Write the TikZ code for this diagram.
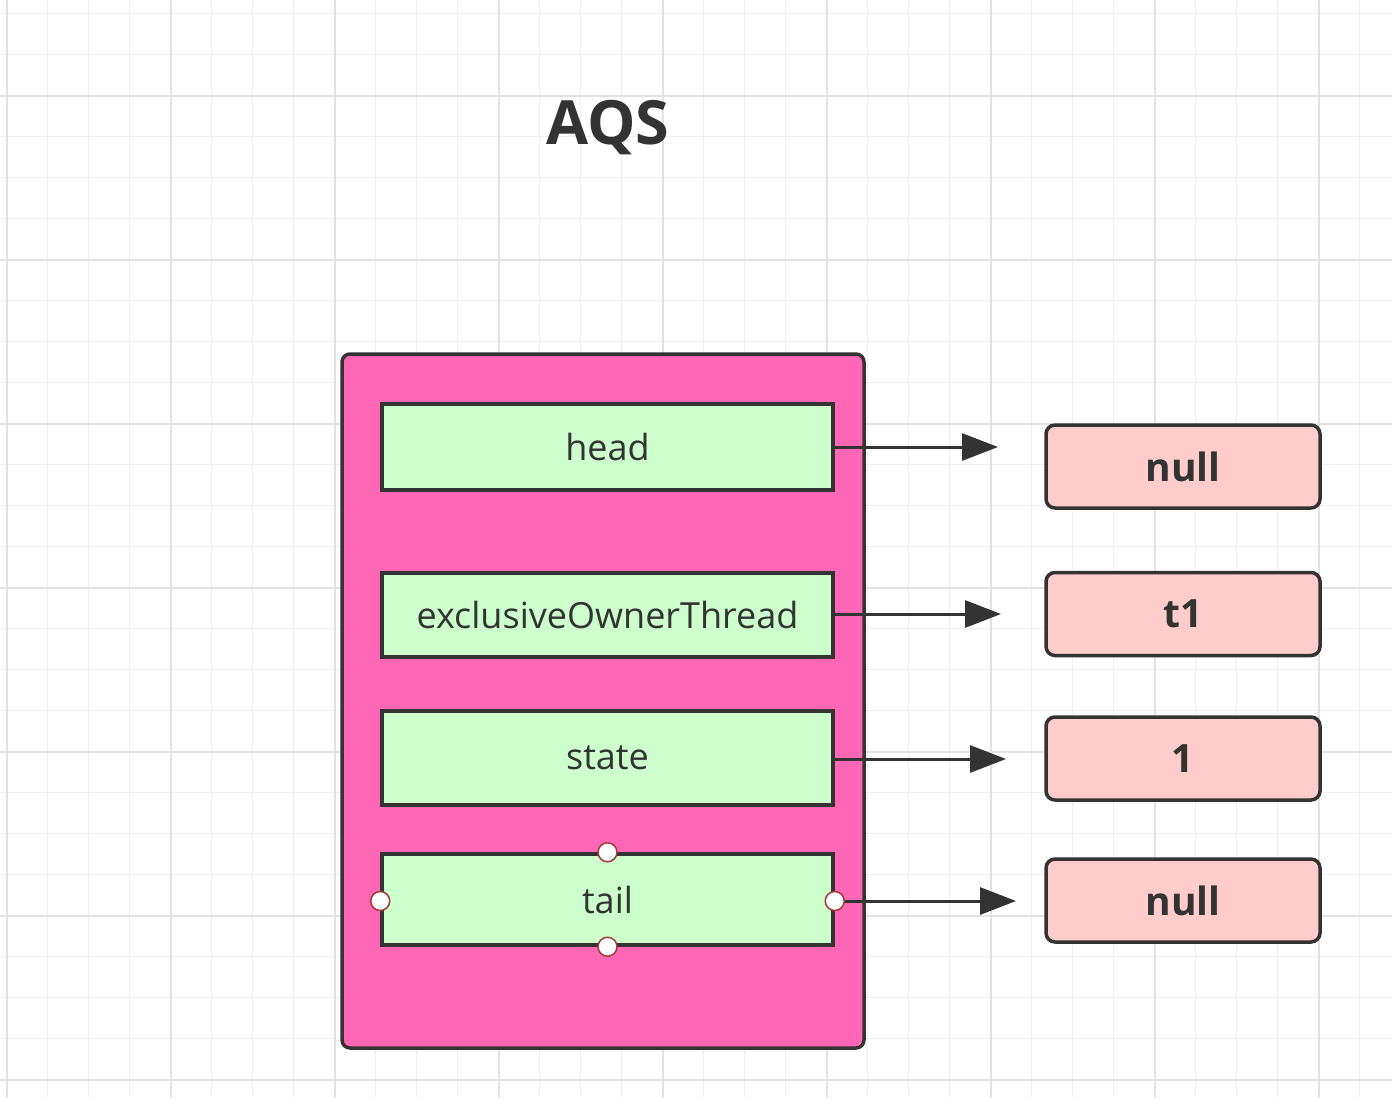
\documentclass[tikz,border=0pt]{standalone}
\usepackage{fontspec}
\setmainfont{Open Sans}
\usetikzlibrary{arrows.meta}
\definecolor{gridminor}{HTML}{F0F0F0}
\definecolor{gridmajor}{HTML}{E2E2E2}
\definecolor{ink}{HTML}{333333}
\definecolor{aqspink}{HTML}{FF66B3}
\definecolor{fieldgreen}{HTML}{CCFFCC}
\definecolor{valuepink}{HTML}{FFCCCC}
\definecolor{portred}{HTML}{A33A3A}
\tikzset{
  container/.style={draw=ink, line width=3.5pt, fill=aqspink, rounded corners=8pt,
    minimum width=522pt, minimum height=694pt, inner sep=0pt},
  field/.style={draw=ink, line width=3.5pt, fill=fieldgreen, text=ink,
    minimum width=451pt, inner sep=0pt,
    font=\fontsize{36}{43}\selectfont},
  value/.style={draw=ink, line width=3.5pt, fill=valuepink, text=ink, rounded corners=9pt,
    minimum width=274pt, minimum height=83pt, inner sep=0pt,
    font=\fontsize{39}{46}\selectfont\bfseries},
  link/.style={draw=ink, line width=3pt, -{Triangle[length=36pt,width=27pt]}},
  port/.style={circle, draw=portred, line width=1.5pt, fill=white,
    minimum size=19pt, inner sep=0pt},
  title/.style={text=ink, font=\fontsize{61}{70}\selectfont\bfseries}
}
\begin{document}
\begin{tikzpicture}[x=1pt, y=-1pt]
  \useasboundingbox (0,0) rectangle (1392,1098);
  \fill[white] (0,0) rectangle (1392,1098);

  % background grid
  \foreach \i in {0,...,33} {
    \draw[gridminor, line width=1.5pt] ({6.7+41*\i},0) -- ({6.7+41*\i},1098);
  }
  \foreach \j in {0,...,26} {
    \draw[gridminor, line width=1.5pt] (0,{13.3+41*\j}) -- (1392,{13.3+41*\j});
  }
  \foreach \i in {0,...,8} {
    \draw[gridmajor, line width=2pt] ({6.7+164*\i},0) -- ({6.7+164*\i},1098);
  }
  \foreach \j in {0,...,6} {
    \draw[gridmajor, line width=2pt] (0,{95.7+164*\j}) -- (1392,{95.7+164*\j});
  }

  % title
  \node[title] (aqs) at (608,128) {AQS};

  % AQS object with its fields
  \node[container] (obj) at (603,701) {};
  \node[field, minimum height=86pt] (head)  at (607.5,447)   {head};
  \node[field, minimum height=84pt] (owner) at (607.5,615)   {exclusiveOwnerThread};
  \node[field, minimum height=94pt] (state) at (607.5,758)   {state};
  \node[field, minimum height=91pt] (tail)  at (607.5,899.5) {tail};

  % field values
  \node[value] (vhead)  at (1183,466.5) {null};
  \node[value] (vowner) at (1183,614)   {t1};
  \node[value] (vstate) at (1183,758.5) {1};
  \node[value] (vtail)  at (1183,900.5) {null};

  % arrow ends
  \coordinate (ehead)  at (998,447);
  \coordinate (eowner) at (1001,614);
  \coordinate (estate) at (1006,759);
  \coordinate (etail)  at (1016,901);

  \draw[link] (head.east)  -- (ehead);
  \draw[link] (owner.east |- eowner) -- (eowner);
  \draw[link] (state.east |- estate) -- (estate);
  \draw[link] (tail.east |- etail) -- (etail);

  % connection points of the selected field
  \node[port] (tn) at (tail.north) {};
  \node[port] (ts) at (tail.south) {};
  \node[port] (tw) at (tail.west |- etail) {};
  \node[port] (te) at (tail.east |- etail) {};
\end{tikzpicture}
\end{document}
